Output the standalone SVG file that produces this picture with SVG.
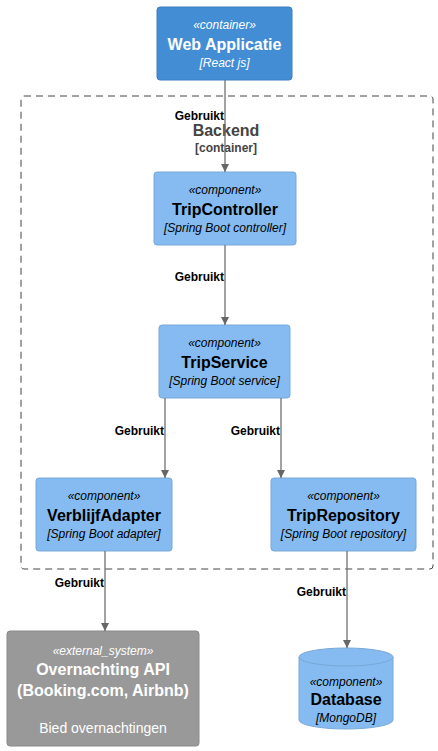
<svg xmlns="http://www.w3.org/2000/svg" width="438" height="751" viewBox="0 0 438 751">
<style>
text{font-family:"Liberation Sans",Arial,sans-serif;text-anchor:middle}
.st{font-size:12px;font-style:italic}
.ti{font-size:16px;font-weight:bold}
.te{font-size:12px;font-style:italic}
.dk text{fill:#000}
.lt text{fill:#fff}
.comp{fill:#85BBF0;stroke:#78A8D8;stroke-width:1}
.lbl{font-size:12px;font-weight:bold;text-anchor:end;fill:#000}
.ln{stroke:#707070;stroke-width:1.3;fill:none}
</style>
<defs>
<marker id="ah" viewBox="0 0 10 10" refX="10" refY="5" markerWidth="8" markerHeight="10" markerUnits="userSpaceOnUse" orient="auto">
<path d="M0,0 L10,5 L0,10 z" fill="#666"/>
</marker>
</defs>
<g id="backend">
<rect x="21" y="96" width="412" height="473" rx="3" fill="none" stroke="#444" stroke-width="1" stroke-dasharray="7,5"/>
<text x="226" y="136" font-size="16" font-weight="bold" fill="#444">Backend</text>
<text x="226" y="152" font-size="12" font-weight="bold" fill="#444">[container]</text>
</g>
<g id="webapp" class="lt">
<rect x="157" y="7" width="135" height="73" rx="3" fill="#438DD5" stroke="#3C7FC0"/>
<text class="st" x="224.5" y="29">«container»</text>
<text class="ti" x="224.5" y="50">Web Applicatie</text>
<text class="te" x="224.5" y="67">[React js]</text>
</g>
<g id="tripcontroller" class="dk">
<rect class="comp" x="154" y="172" width="142" height="73" rx="3"/>
<text class="st" x="225" y="194">«component»</text>
<text class="ti" x="225" y="215">TripController</text>
<text class="te" x="225" y="232">[Spring Boot controller]</text>
</g>
<g id="tripservice" class="dk">
<rect class="comp" x="159" y="325" width="131" height="73" rx="3"/>
<text class="st" x="224.5" y="347">«component»</text>
<text class="ti" x="224.5" y="368">TripService</text>
<text class="te" x="224.5" y="385">[Spring Boot service]</text>
</g>
<g id="verblijfadapter" class="dk">
<rect class="comp" x="36" y="478" width="136" height="73" rx="3"/>
<text class="st" x="104" y="500">«component»</text>
<text class="ti" x="104" y="521">VerblijfAdapter</text>
<text class="te" x="104" y="538">[Spring Boot adapter]</text>
</g>
<g id="triprepository" class="dk">
<rect class="comp" x="271" y="478" width="145" height="73" rx="3"/>
<text class="st" x="343.5" y="500">«component»</text>
<text class="ti" x="343.5" y="521">TripRepository</text>
<text class="te" x="343.5" y="538">[Spring Boot repository]</text>
</g>
<g id="overnachting" class="lt">
<rect x="7" y="631" width="192" height="115" rx="3" fill="#999999" stroke="#8A8A8A"/>
<text class="st" x="103" y="655">«external_system»</text>
<text class="ti" x="103" y="675">Overnachting API</text>
<text class="ti" x="103" y="696">(Booking.com, Airbnb)</text>
<text x="103" y="733" font-size="14">Bied overnachtingen</text>
</g>
<g id="database" class="dk">
<path d="M299,657 A47,9 0 0 1 393,657 L393,720 A47,9 0 0 1 299,720 Z" fill="#85BBF0" stroke="#78A8D8"/>
<path d="M299,657 A47,9 0 0 0 393,657" fill="none" stroke="#78A8D8"/>
<text class="st" x="346" y="686">«component»</text>
<text class="ti" x="346" y="705">Database</text>
<text class="te" x="346" y="722">[MongoDB]</text>
</g>
<g id="connectors">
<line class="ln" x1="225" y1="80" x2="225" y2="172" marker-end="url(#ah)"/>
<text class="lbl" x="224" y="120">Gebruikt</text>
<line class="ln" x1="225" y1="245" x2="225" y2="325" marker-end="url(#ah)"/>
<text class="lbl" x="224" y="281">Gebruikt</text>
<line class="ln" x1="165" y1="398" x2="165" y2="478" marker-end="url(#ah)"/>
<text class="lbl" x="164" y="435">Gebruikt</text>
<line class="ln" x1="281" y1="398" x2="281" y2="478" marker-end="url(#ah)"/>
<text class="lbl" x="280" y="435">Gebruikt</text>
<line class="ln" x1="105" y1="551" x2="105" y2="631" marker-end="url(#ah)"/>
<text class="lbl" x="104" y="587">Gebruikt</text>
<line class="ln" x1="347" y1="551" x2="347" y2="648" marker-end="url(#ah)"/>
<text class="lbl" x="346" y="596">Gebruikt</text>
</g>
</svg>
